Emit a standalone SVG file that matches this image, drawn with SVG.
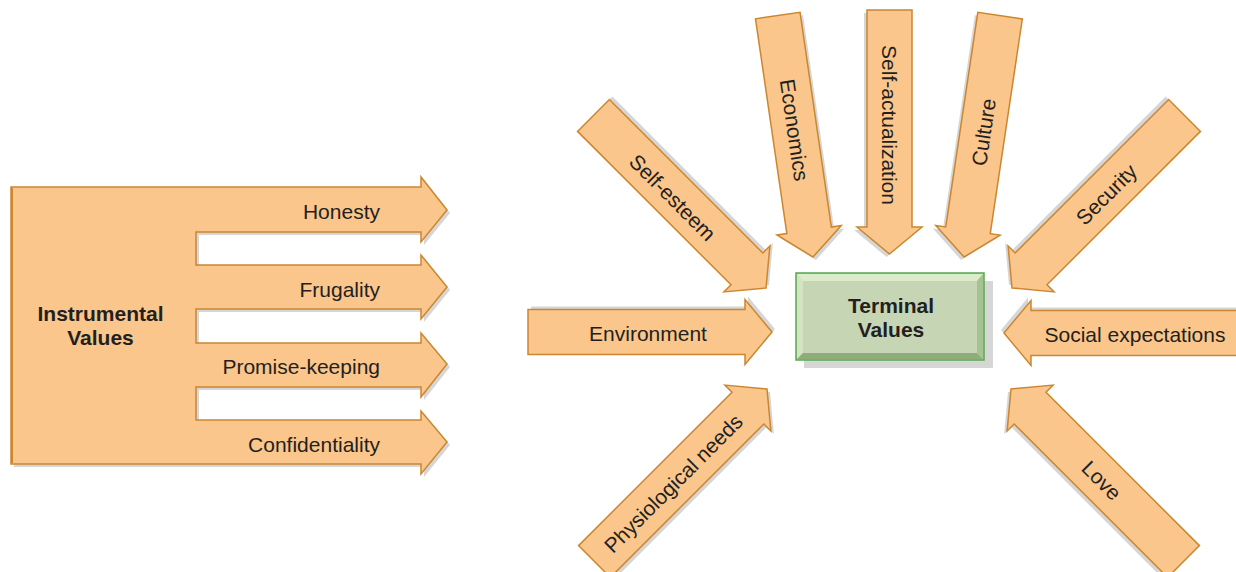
<svg xmlns="http://www.w3.org/2000/svg" xmlns:xlink="http://www.w3.org/1999/xlink" width="1236" height="572" viewBox="0 0 1236 572">
<style>
.arr{fill:#FAC68B;stroke:#CC8630;stroke-width:1.5;stroke-linejoin:miter}
.sh{fill:#D6D6D6;stroke:none}
.lbl{font-family:"Liberation Sans",Arial,sans-serif;font-size:21px;fill:#231F20}
.bold{font-weight:bold}
</style>
<defs>
<path id="arrow" d="M0,0 L-27,-32.5 L-27,-22.5 L-244,-22.5 L-244,22.5 L-27,22.5 L-27,32.5 Z"/>
<path id="arrowLong" d="M0,0 L-27,-32.5 L-27,-22.5 L-280,-22.5 L-280,22.5 L-27,22.5 L-27,32.5 Z"/>
</defs>
<rect width="1236" height="572" fill="#FFFFFF"/>

<g id="instrumental">
<path class="sh" transform="translate(3,3)" d="M11,187 L421,187 L421,177 L447,210 L421,242 L421,232 L196,232 L196,265 L421,265 L421,255 L447,287 L421,319 L421,309 L196,309 L196,343 L421,343 L421,333 L447,364 L421,397 L421,387 L196,387 L196,420 L421,420 L421,411 L447,442 L421,474 L421,464 L11,464 Z"/>
<path class="arr" stroke-width="2" d="M11,187 L421,187 L421,177 L447,210 L421,242 L421,232 L196,232 L196,265 L421,265 L421,255 L447,287 L421,319 L421,309 L196,309 L196,343 L421,343 L421,333 L447,364 L421,397 L421,387 L196,387 L196,420 L421,420 L421,411 L447,442 L421,474 L421,464 L11,464 Z"/>
<line x1="12" y1="188" x2="12" y2="463" stroke="#CC8630" stroke-width="2"/>
<text class="lbl bold" x="100.5" y="321" text-anchor="middle">Instrumental</text>
<text class="lbl bold" x="100.5" y="345" text-anchor="middle">Values</text>
<text class="lbl" x="380" y="219" text-anchor="end">Honesty</text>
<text class="lbl" x="380" y="297" text-anchor="end">Frugality</text>
<text class="lbl" x="380" y="374" text-anchor="end">Promise-keeping</text>
<text class="lbl" x="380" y="452" text-anchor="end">Confidentiality</text>
</g>

<g id="terminal">
<rect x="804" y="281" width="189" height="87" fill="#D6D6D6"/>
<rect x="796" y="273" width="188" height="87" fill="#C6D5B4" stroke="#55A84F" stroke-width="1.5"/>
<polygon points="797,274 983,274 977,281 803,281" fill="#DCEBCA"/>
<polygon points="797,274 803,281 803,353 797,359" fill="#D4E4C1"/>
<polygon points="797,359 983,359 977,353 803,353" fill="#8DAE78"/>
<polygon points="983,274 983,359 977,353 977,281" fill="#A6C291"/>
<text class="lbl bold" x="891" y="312.5" text-anchor="middle">Terminal</text>
<text class="lbl bold" x="891" y="337" text-anchor="middle">Values</text>
</g>

<g id="environment">
<use xlink:href="#arrow" class="sh" transform="translate(775,329)"/>
<use xlink:href="#arrow" class="arr" transform="translate(772,332)"/>
<text class="lbl" x="648" y="341" text-anchor="middle">Environment</text>
</g>

<g id="self-esteem">
<use xlink:href="#arrow" class="sh" transform="translate(769,285) rotate(45)"/>
<use xlink:href="#arrow" class="arr" transform="translate(766,288) rotate(45)"/>
<text class="lbl" transform="translate(673,197) rotate(45)" y="8" text-anchor="middle">Self-esteem</text>
</g>

<g id="economics">
<use xlink:href="#arrow" class="sh" transform="translate(816,260) rotate(81.7)"/>
<use xlink:href="#arrow" class="arr" transform="translate(813,257) rotate(81.7)"/>
<text class="lbl" transform="translate(795,130) rotate(81.7)" y="8" text-anchor="middle">Economics</text>
</g>

<g id="self-actualization">
<use xlink:href="#arrow" class="sh" transform="translate(886.5,257) rotate(90)"/>
<use xlink:href="#arrow" class="arr" transform="translate(889.5,254) rotate(90)"/>
<text class="lbl" transform="translate(889.5,125) rotate(90)" y="8" text-anchor="middle">Self-actualization</text>
</g>

<g id="culture">
<use xlink:href="#arrow" class="sh" transform="translate(961,260) rotate(98.5)"/>
<use xlink:href="#arrow" class="arr" transform="translate(964,257) rotate(98.5)"/>
<text class="lbl" transform="translate(983,132) rotate(-81.5)" y="8" text-anchor="middle">Culture</text>
</g>

<g id="security">
<use xlink:href="#arrow" class="sh" transform="translate(1009,285) rotate(135)"/>
<use xlink:href="#arrow" class="arr" transform="translate(1012,288) rotate(135)"/>
<text class="lbl" transform="translate(1106,194) rotate(-45)" y="8" text-anchor="middle">Security</text>
</g>

<g id="social-expectations">
<use xlink:href="#arrowLong" class="sh" transform="translate(1001,330) rotate(180)"/>
<use xlink:href="#arrowLong" class="arr" transform="translate(1004,333) rotate(180)"/>
<text class="lbl" x="1135" y="342" text-anchor="middle">Social expectations</text>
</g>

<g id="physiological-needs">
<use xlink:href="#arrow" class="sh" transform="translate(770,392) rotate(-45)"/>
<use xlink:href="#arrow" class="arr" transform="translate(767,389) rotate(-45)"/>
<text class="lbl" transform="translate(673,483) rotate(-45)" y="8" text-anchor="middle">Physiological needs</text>
</g>

<g id="love">
<use xlink:href="#arrow" class="sh" transform="translate(1008,392) rotate(-135)"/>
<use xlink:href="#arrow" class="arr" transform="translate(1011,389) rotate(-135)"/>
<text class="lbl" transform="translate(1102,480) rotate(45)" y="8" text-anchor="middle">Love</text>
</g>

<g id="connectors"></g>
</svg>
